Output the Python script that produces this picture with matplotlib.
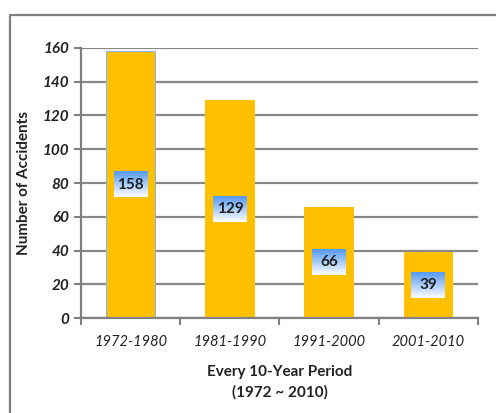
import numpy as np
import matplotlib
matplotlib.use("Agg")
import matplotlib.pyplot as plt
from matplotlib.lines import Line2D

periods = ["1972-1980", "1981-1990", "1991-2000", "2001-2010"]
accidents = [158, 129, 66, 39]

plt.rcParams['font.family'] = ['Lato', 'DejaVu Sans']

fig = plt.figure(figsize=(4.96, 4.13), dpi=100)
ax = fig.add_axes([0.1633, 0.23, 0.8004, 0.6538])

# outer frame of the chart area: only left and top edges are visible
fx, fy = 9.5 / 496, 1 - 15 / 413
fig.lines.append(Line2D([fx, fx, 1.0], [0.0, fy, fy], transform=fig.transFigure,
                        color='#7F7F7F', linewidth=1.6))

x = np.arange(len(periods))
bars = ax.bar(x, accidents, width=0.5, color='#FFC000', zorder=2)
bars[0].set_edgecolor('#8DB4E2')
bars[0].set_linewidth(0.8)

# gradient label boxes at mid-height of bars
grad = np.linspace(0, 1, 64).reshape(-1, 1, 1)
top = np.array([0.33, 0.6, 0.95])
bottom = np.array([1.0, 1.0, 1.0])
img = top + (bottom - top) * grad
for xi, v in zip(x, accidents):
    bw, bh = 0.34, 15
    ax.imshow(img, extent=(xi - bw / 2, xi + bw / 2, v / 2 - bh / 2, v / 2 + bh / 2),
              aspect='auto', zorder=3, origin='upper')
    ax.text(xi, v / 2, str(v), ha='center', va='center', fontsize=11,
            fontweight='bold', color='#1F1F1F', zorder=4)

ax.set_xlim(-0.5, len(periods) - 0.5)
ax.set_ylim(0, 160)
ax.set_yticks(np.arange(0, 161, 20))
ax.set_xticks(x)
ax.set_xticklabels(periods, fontsize=10.5, fontstyle='italic', color='#222222')
ax.set_xticks(np.arange(-0.5, len(periods), 1), minor=True)
ax.tick_params(axis='x', which='major', length=0, pad=12)
ax.tick_params(axis='x', which='minor', length=5, width=1.5, color='#808080')
ax.tick_params(axis='y', length=5, width=1.5, color='#808080', labelsize=11)
for lab in ax.get_yticklabels():
    lab.set_fontstyle('italic')
    lab.set_fontweight('bold')
    lab.set_color('#222222')

ax.grid(axis='y', color='#888888', linewidth=1.6, zorder=0)
ax.set_axisbelow(True)
for s in ['top', 'right']:
    ax.spines[s].set_visible(False)
for s in ['left', 'bottom']:
    ax.spines[s].set_color('#808080')
    ax.spines[s].set_linewidth(1.6)

ax.set_ylabel("Number of Accidents", fontsize=11, fontweight='bold', color='#222222', labelpad=8)
ax.set_xlabel("Every 10-Year Period\n(1972 ~ 2010)", fontsize=11, fontweight='bold',
              color='#222222', labelpad=12, linespacing=1.5)

fig.savefig("out.png", dpi=100)
